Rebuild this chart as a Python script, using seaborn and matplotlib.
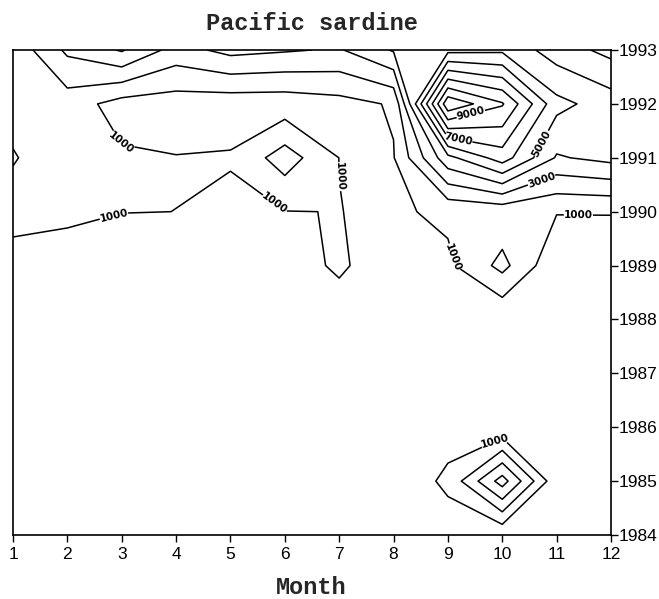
import numpy as np
import matplotlib
matplotlib.use('Agg')
import matplotlib.pyplot as plt
import seaborn as sns

# ── Style ──────────────────────────────────────────────────────────────────────
sns.set_style('ticks')
plt.rcParams['font.family'] = ['Liberation Sans', 'DejaVu Sans']

# ── Data: sardine values per month (1..12) for each year ───────────────────────
months = list(range(1, 13))
years = list(range(1984, 1994))

y1984 = [150, 150, 150, 150, 150, 150, 200, 250, 500, 150, 250, 200]
y1985 = [150, 150, 200, 200, 200, 200, 250, 300, 1200, 4450, 250, 200]
y1986 = [150, 150, 150, 200, 200, 200, 250, 300, 600, 150, 300, 200]
y1987 = [200, 200, 200, 200, 200, 250, 300, 300, 300, 250, 200, 200]
y1988 = [200, 200, 200, 200, 250, 300, 670, 400, 400, 100, 200, 200]
y1989 = [380, 400, 300, 300, 300, 700, 1100, 600, 800, 2300, 200, 300]
y1990 = [1550, 1260, 1020, 998, 700, 980, 1013, 850, 1200, 1300, 1050, 1050]
y1991 = [2080, 1300, 1130, 1030, 1100, 2500, 990, 950, 4700, 6500, 3900, 4300]
y1992 = [1600, 1500, 600, 500, 400, 400, 650, 1100, 10800, 9100, 5300, 4500]
y1993 = [1300, 3200, 4100, 2600, 3300, 3100, 2900, 4100, 4700, 4800, 3500, 2700]

label_levels = [1000, 3000, 5000, 7000, 9000]
plain_levels = [2000, 4000, 6000, 8000, 10000]

grid = np.array([y1984, y1985, y1986, y1987, y1988,
                 y1989, y1990, y1991, y1992, y1993], dtype=float)

# ── Figure ─────────────────────────────────────────────────────────────────────
W, H = 659, 599
fig = plt.figure(figsize=(W / 100, H / 100), dpi=100)
ax = fig.add_axes([13 / W, 1 - 535 / H, (611 - 13) / W, (535 - 50) / H])

ax.contour(months, years, grid, levels=plain_levels, colors='black', linewidths=1.1)
cs = ax.contour(months, years, grid, levels=label_levels, colors='black', linewidths=1.1)

# where the labels sit (near the contour they belong to)
label_spots = [(2.9, 1991.22), (2.85, 1989.95), (5.85, 1990.2), (7.05, 1990.65),
               (9.1, 1989.15), (11.4, 1989.97), (9.85, 1985.78),
               (10.7, 1990.65), (10.75, 1991.25), (9.2, 1991.4), (9.45, 1991.7)]

texts = ax.clabel(cs, manual=label_spots, fmt='%d', fontsize=7.5,
                  inline=True, inline_spacing=3)
for t in texts:
    t.set_fontfamily('DejaVu Sans')
    t.set_fontweight('bold')

ax.set_xlim(1, 12)
ax.set_ylim(1984, 1993)
ax.set_xticks(months)
ax.set_yticks(years)
ax.yaxis.tick_right()
ax.tick_params(axis='x', direction='out', length=5, width=1, labelsize=12.5, pad=3.5,
               colors='black')
ax.tick_params(axis='y', direction='out', length=5, width=1, labelsize=12.5, pad=0.3,
               colors='black')
for sp in ax.spines.values():
    sp.set_visible(True)
    sp.set_color('black')
    sp.set_linewidth(1.2)

fig.text(312 / W, 1 - 24 / H, 'Pacific sardine', ha='center', va='center',
         fontsize=17, fontweight='bold', family=['Liberation Mono', 'DejaVu Sans Mono'])
fig.text(311 / W, 1 - 587 / H, 'Month', ha='center', va='center',
         fontsize=17, fontweight='bold', family=['Liberation Mono', 'DejaVu Sans Mono'])

fig.savefig('out.png', dpi=100)
